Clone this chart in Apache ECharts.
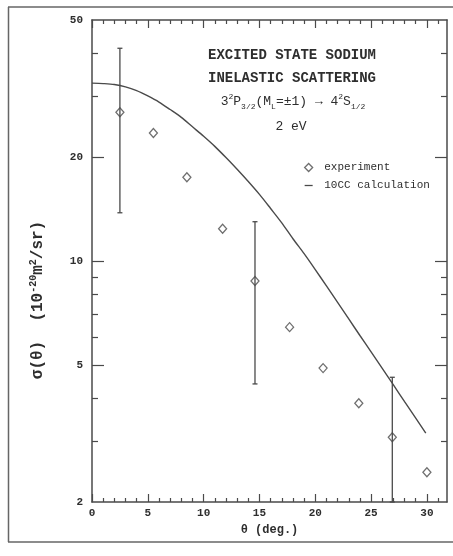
<!DOCTYPE html>
<html><head><meta charset="utf-8">
<script src="https://cdn.jsdelivr.net/npm/echarts@6/dist/echarts.min.js"></script>
<style>html,body{margin:0;padding:0;background:#fff}#c{width:453px;height:556px}</style>
</head><body><div id="c"></div>
<script>
// ---- data ----
const expAngles = [2.5, 5.5, 8.5, 11.7, 14.6, 17.7, 20.7, 23.9, 26.9, 30.0];
const expValues = [27.0, 23.5, 17.5, 12.4, 8.75, 6.43, 4.89, 3.87, 3.08, 2.44];
const errAngles = [2.5, 14.6, 26.9];
const errLow = [13.8, 4.4, 2.0];
const errHigh = [41.4, 13.0, 4.6];
const calcAngles = [0,1,2,3,4,5,6,7,8,9,10,11,12,13,14,15,16,17,18,19,20,21,22,23,24,25,26,27,28,29,29.9];
const calcValues = [32.8,32.7,32.5,32.0,31.2,30.1,28.9,27.5,26.1,24.5,23.0,21.5,19.95,18.45,17.0,15.6,14.2,12.9,11.6,10.5,9.44,8.47,7.59,6.79,6.08,5.45,4.88,4.37,3.91,3.50,3.17];
const xMajorTicks = [0,5,10,15,20,25,30];
const xMinorTicks = [1,2,3,4,6,7,8,9,11,12,13,14,16,17,18,19,21,22,23,24,26,27,28,29,31];
const yLabelValues = [2,5,10,20,50];
const yMajorTicks = [5,10,20];
const yMinorTicks = [3,4,6,7,8,9,30,40];
const xMin = 0, xMax = 31.8, yMin = 2, yMax = 50;

const lg = v => Math.log10(v);
const INK = '#4a4a4a';
const TXT = '#2e2e2e';
const MONO = '"Liberation Mono", "DejaVu Sans Mono", monospace';

function xAx(pos, ticks, len, showLabel, showLine, extra) {
  return Object.assign({
    type: 'value', position: pos, min: xMin, max: xMax,
    axisLine: {show: showLine, onZero: false, lineStyle: {color: INK, width: 1.5}},
    axisTick: {show: true, inside: true, length: len, customValues: ticks, lineStyle: {color: INK, width: 1.2}},
    axisLabel: {show: showLabel, customValues: ticks, margin: 6, color: TXT, fontFamily: MONO, fontWeight: 'bold', fontSize: 11},
    splitLine: {show: false}
  }, extra || {});
}
function yAx(pos, ticks, len, showLabel, showLine, extra) {
  return Object.assign({
    type: 'value', position: pos, min: lg(yMin), max: lg(yMax),
    axisLine: {show: showLine, onZero: false, lineStyle: {color: INK, width: 1.5}},
    axisTick: {show: true, inside: true, length: len, customValues: ticks.map(lg), lineStyle: {color: INK, width: 1.2}},
    axisLabel: {show: showLabel, customValues: yLabelValues.map(lg), margin: 9, color: TXT, fontFamily: MONO, fontWeight: 'bold', fontSize: 11,
      formatter: v => String(Math.round(Math.pow(10, v)))},
    splitLine: {show: false}
  }, extra || {});
}

const chart = echarts.init(document.getElementById('c'));
chart.setOption({
  backgroundColor: '#fff',
  animation: false,
  grid: {left: 92, right: 6, top: 20, bottom: 54},
  xAxis: [
    xAx('bottom', xMajorTicks, 8, true, true, {
      name: 'θ (deg.)', nameLocation: 'middle', nameGap: 20,
      nameTextStyle: {color: TXT, fontFamily: MONO, fontSize: 12, fontWeight: 'bold'}
    }),
    xAx('bottom', xMinorTicks, 4, false, false),
    xAx('top', xMajorTicks, 8, false, true),
    xAx('top', xMinorTicks, 4, false, false)
  ],
  yAxis: [
    yAx('left', yMajorTicks, 12, true, true),
    yAx('left', yMinorTicks, 6, false, false),
    yAx('right', yMajorTicks, 12, false, true),
    yAx('right', yMinorTicks, 6, false, false)
  ],
  legend: {
    orient: 'vertical', left: 299, top: 157, itemWidth: 8, itemHeight: 8, itemGap: 7,
    formatter: name => ' ' + name,
    textStyle: {color: TXT, fontFamily: MONO, fontSize: 11},
    data: [
      {name: 'experiment', icon: 'diamond', itemStyle: {color: 'rgba(255,255,255,0)', borderColor: INK, borderWidth: 1.3}},
      {name: '10CC calculation', icon: 'path://M0,0H10V1.6H0Z', itemStyle: {color: INK, borderWidth: 0}}
    ]
  },
  graphic: [
    {type: 'text', z: 100, style: {text: 'EXCITED STATE SODIUM', x: 292, y: 55, align: 'center', verticalAlign: 'middle',
      font: 'bold 14px "Liberation Mono"', fill: TXT}},
    {type: 'text', z: 100, style: {text: 'INELASTIC SCATTERING', x: 292, y: 78, align: 'center', verticalAlign: 'middle',
      font: 'bold 14px "Liberation Mono"', fill: TXT}},
    {type: 'text', z: 100, style: {
      text: '{n|3}{sup|2}{n|P}{sub|3/2}{n|(M}{sub|L}{n|=±1) → 4}{sup|2}{n|S}{sub|1/2}',
      x: 293, y: 102, align: 'center', verticalAlign: 'middle',
      rich: {
        n: {fontFamily: MONO, fontSize: 13, fill: TXT, lineHeight: 18},
        sup: {fontFamily: MONO, fontSize: 8, fill: TXT, lineHeight: 9, verticalAlign: 'top'},
        sub: {fontFamily: MONO, fontSize: 8, fill: TXT, lineHeight: 9, verticalAlign: 'bottom'}
      }}},
    {type: 'text', z: 100, style: {text: '2 eV', x: 291, y: 127, align: 'center', verticalAlign: 'middle',
      font: '13px "Liberation Mono"', fill: TXT}},
    // y-axis title
    {type: 'text', z: 100, x: 38, y: 300, rotation: Math.PI / 2, style: {
      text: '{n|σ(θ)  (10}{sup|-20}{n|m}{sup|2}{n|/sr)}', align: 'center', verticalAlign: 'middle',
      rich: {
        n: {fontFamily: MONO, fontSize: 16, fill: TXT, fontWeight: 'bold', lineHeight: 20},
        sup: {fontFamily: MONO, fontSize: 10, fill: TXT, fontWeight: 'bold', lineHeight: 10, verticalAlign: 'top'}
      }}},
    // scanned page frame
    {type: 'line', shape: {x1: 8, y1: 7, x2: 453, y2: 7}, style: {stroke: '#666', lineWidth: 1.5}},
    {type: 'line', shape: {x1: 8.5, y1: 7, x2: 8.5, y2: 542}, style: {stroke: '#666', lineWidth: 1.5}},
    {type: 'line', shape: {x1: 8, y1: 542, x2: 453, y2: 542}, style: {stroke: '#666', lineWidth: 1.5}}
  ],
  series: [
    {
      name: '10CC calculation', type: 'line', xAxisIndex: 0, yAxisIndex: 0,
      data: calcAngles.map((a, i) => [a, lg(calcValues[i])]),
      smooth: 0.3, showSymbol: false, symbol: 'none',
      lineStyle: {color: INK, width: 1.4}, itemStyle: {color: INK}, z: 3
    },
    {
      name: 'error', type: 'custom', xAxisIndex: 0, yAxisIndex: 0,
      data: errAngles.map((a, i) => [a, lg(errLow[i]), lg(errHigh[i])]),
      encode: {x: 0, y: [1, 2]},
      renderItem: function (params, api) {
        const x = api.value(0);
        const p1 = api.coord([x, api.value(1)]);
        const p2 = api.coord([x, api.value(2)]);
        const w = 2.5;
        const st = {stroke: INK, lineWidth: 1.3};
        return {type: 'group', children: [
          {type: 'line', shape: {x1: p1[0], y1: p1[1], x2: p2[0], y2: p2[1]}, style: st},
          {type: 'line', shape: {x1: p1[0] - w, y1: p1[1], x2: p1[0] + w, y2: p1[1]}, style: st},
          {type: 'line', shape: {x1: p2[0] - w, y1: p2[1], x2: p2[0] + w, y2: p2[1]}, style: st}
        ]};
      },
      z: 4
    },
    {
      name: 'experiment', type: 'scatter', xAxisIndex: 0, yAxisIndex: 0,
      data: expAngles.map((a, i) => [a, lg(expValues[i])]),
      symbol: 'diamond', symbolSize: [8, 9],
      itemStyle: {color: 'rgba(255,255,255,0)', borderColor: INK, borderWidth: 1.3}, z: 5
    }
  ]
});
</script></body></html>
